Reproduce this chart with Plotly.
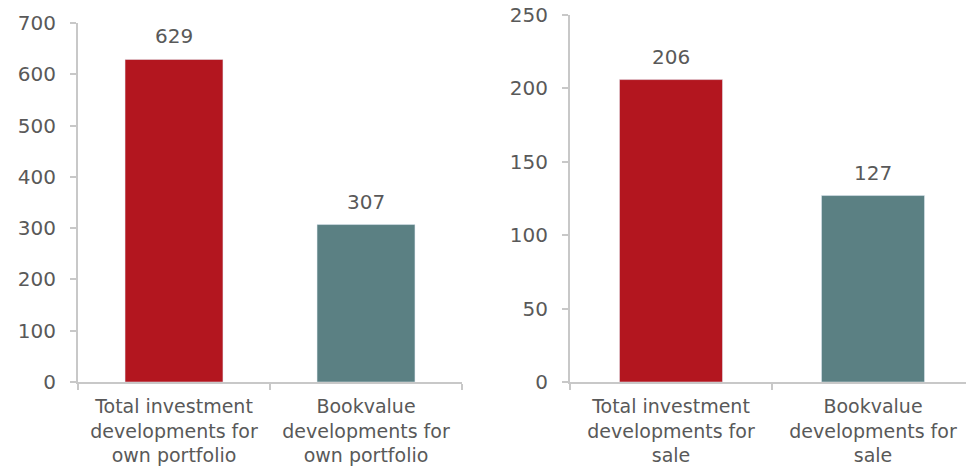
import plotly.graph_objects as go

left_categories = ["Total investment<br>developments for<br>own portfolio",
                   "Bookvalue<br>developments for<br>own portfolio"]
left_values = [629, 307]
right_categories = ["Total investment<br>developments for<br>sale",
                    "Bookvalue<br>developments for<br>sale"]
right_values = [206, 127]
bar_colors = ["#B3161F", "#5B8083"]
left_ticks = [0, 100, 200, 300, 400, 500, 600, 700]
right_ticks = [0, 50, 100, 150, 200, 250]

W, H = 974, 468
OFF = 8  # page body margin
TXT = "#595959"
AX = "#C8C8C8"
FONT = "Verdana, DejaVu Sans, sans-serif"
FS = 20
FSX = 19

fig = go.Figure()
fig.add_trace(go.Bar(x=left_categories, y=left_values, marker_color=bar_colors,
                     width=0.51, xaxis="x", yaxis="y", hoverinfo="skip"))
fig.add_trace(go.Bar(x=right_categories, y=right_values, marker_color=bar_colors,
                     width=0.51, xaxis="x2", yaxis="y2", hoverinfo="skip"))

annotations = []
for c, v in zip(left_categories, left_values):
    annotations.append(dict(x=c, y=v, xref="x", yref="y", text=str(v), showarrow=False,
                            yanchor="bottom", yshift=9, font=dict(size=FS, color=TXT, family=FONT)))
for c, v in zip(right_categories, right_values):
    annotations.append(dict(x=c, y=v, xref="x2", yref="y2", text=str(v), showarrow=False,
                            yanchor="bottom", yshift=9, font=dict(size=FS, color=TXT, family=FONT)))

axis_common = dict(showline=True, linecolor=AX, linewidth=2, ticks="outside",
                   tickcolor=AX, ticklen=6, tickwidth=1.5, showgrid=False, zeroline=False,
                   automargin=False, ticklabeloverflow="allow")
yfont = dict(size=FS, color=TXT, family=FONT)
xfont = dict(size=FSX, color=TXT, family=FONT)

yb = (H - (382 - OFF)) / H
fig.update_layout(
    width=W, height=H,
    margin=dict(l=0, r=0, t=0, b=0),
    paper_bgcolor="white", plot_bgcolor="white",
    showlegend=False,
    font=dict(family=FONT, size=FS, color=TXT),
    annotations=annotations,
    xaxis=dict(domain=[(78 - OFF) / W, (462 - OFF) / W], anchor="y", tickson="boundaries",
               ticklabelstandoff=6, tickfont=xfont, **axis_common),
    yaxis=dict(domain=[yb, (H - (23 - OFF)) / H], range=[0, 700], tickvals=left_ticks,
               anchor="x", ticklabelstandoff=10, tickfont=yfont, **axis_common),
    xaxis2=dict(domain=[(570 - OFF) / W, (974 - OFF) / W], anchor="y2", tickson="boundaries",
                ticklabelstandoff=6, tickfont=xfont, **axis_common),
    yaxis2=dict(domain=[yb, (H - (15 - OFF)) / H], range=[0, 250], tickvals=right_ticks,
                anchor="x2", ticklabelstandoff=10, tickfont=yfont, **axis_common),
)

fig.write_html("out.html")
